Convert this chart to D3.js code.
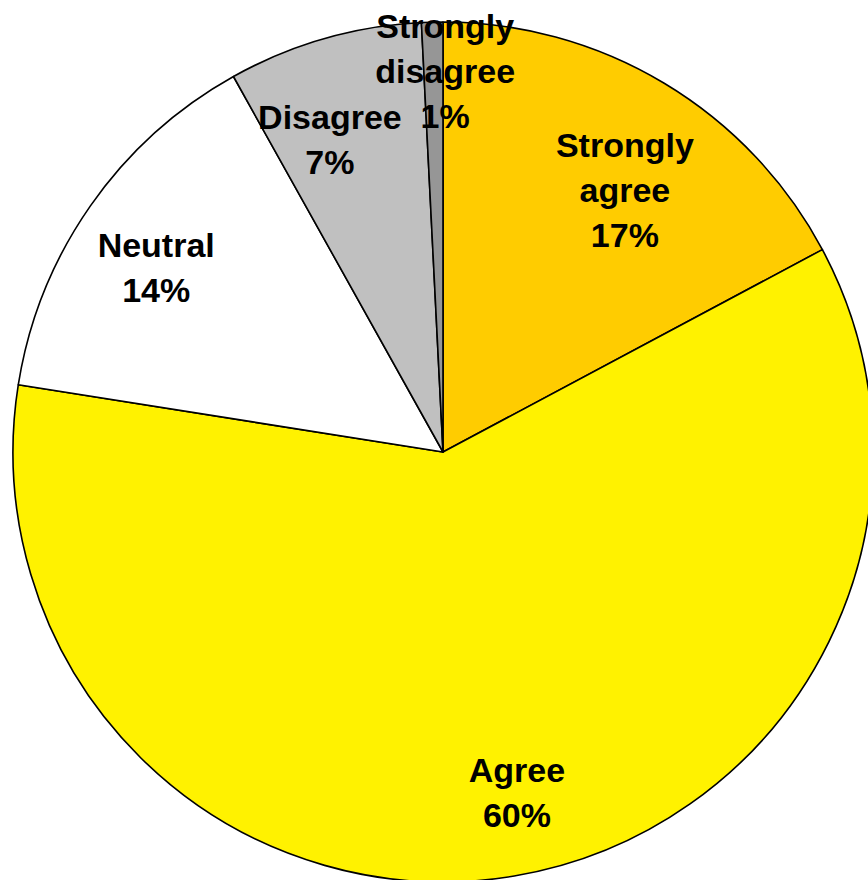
<!DOCTYPE html>
<html>
<head>
<meta charset="utf-8">
<script src="https://cdn.jsdelivr.net/npm/d3@7/dist/d3.min.js"></script>
<style>
html,body{margin:0;padding:0;background:#fff;}
svg{display:block;}
</style>
</head>
<body>
<div id="chart"></div>
<script>
const categories = ["Strongly agree", "Agree", "Neutral", "Disagree", "Strongly disagree"];
const values = [17.2, 60.3, 14.4, 7.3, 0.8];
const labels = ["17%", "60%", "14%", "7%", "1%"];
const labelLines = [["Strongly", "agree"], ["Agree"], ["Neutral"], ["Disagree"], ["Strongly", "disagree"]];
const colors = ["#FFCC00", "#FFF200", "#FFFFFF", "#C0C0C0", "#969696"];
// label block centres, in units of the pie radius, relative to the pie centre (layout only)
const labelOffsets = [[0.423, -0.609], [0.172, 0.791], [-0.667, -0.430], [-0.263, -0.728], [0.005, -0.886]];

const W = 868, H = 880;
const cx = 443, cy = 452, R = 430;

const svg = d3.select("#chart").append("svg").attr("width", W).attr("height", H);
const g = svg.append("g").attr("transform", `translate(${cx},${cy})`);

const data = categories.map((c, i) => ({c, v: values[i], i}));
const pie = d3.pie().value(d => d.v).sort(null);
const arcs = pie(data);
const arc = d3.arc().innerRadius(0).outerRadius(R);

g.selectAll("path").data(arcs).join("path")
  .attr("d", arc)
  .attr("fill", d => colors[d.data.i])
  .attr("stroke", "#000")
  .attr("stroke-width", 1.6)
  .attr("stroke-linejoin", "round");

const fs = 34, lh = 45;
arcs.forEach(a => {
  const i = a.data.i;
  const lines = labelLines[i].concat([labels[i]]);
  const lx = labelOffsets[i][0] * R;
  const ly = labelOffsets[i][1] * R;
  const t = g.append("text")
    .attr("text-anchor", "middle")
    .attr("font-family", "'Liberation Sans', Arial, sans-serif")
    .attr("font-weight", "bold")
    .attr("font-size", fs)
    .attr("fill", "#000");
  const n = lines.length;
  lines.forEach((s, k) => {
    t.append("tspan").attr("x", lx)
      .attr("y", ly + (k - (n - 1) / 2) * lh + fs * 0.36)
      .text(s);
  });
});
</script>
</body>
</html>
